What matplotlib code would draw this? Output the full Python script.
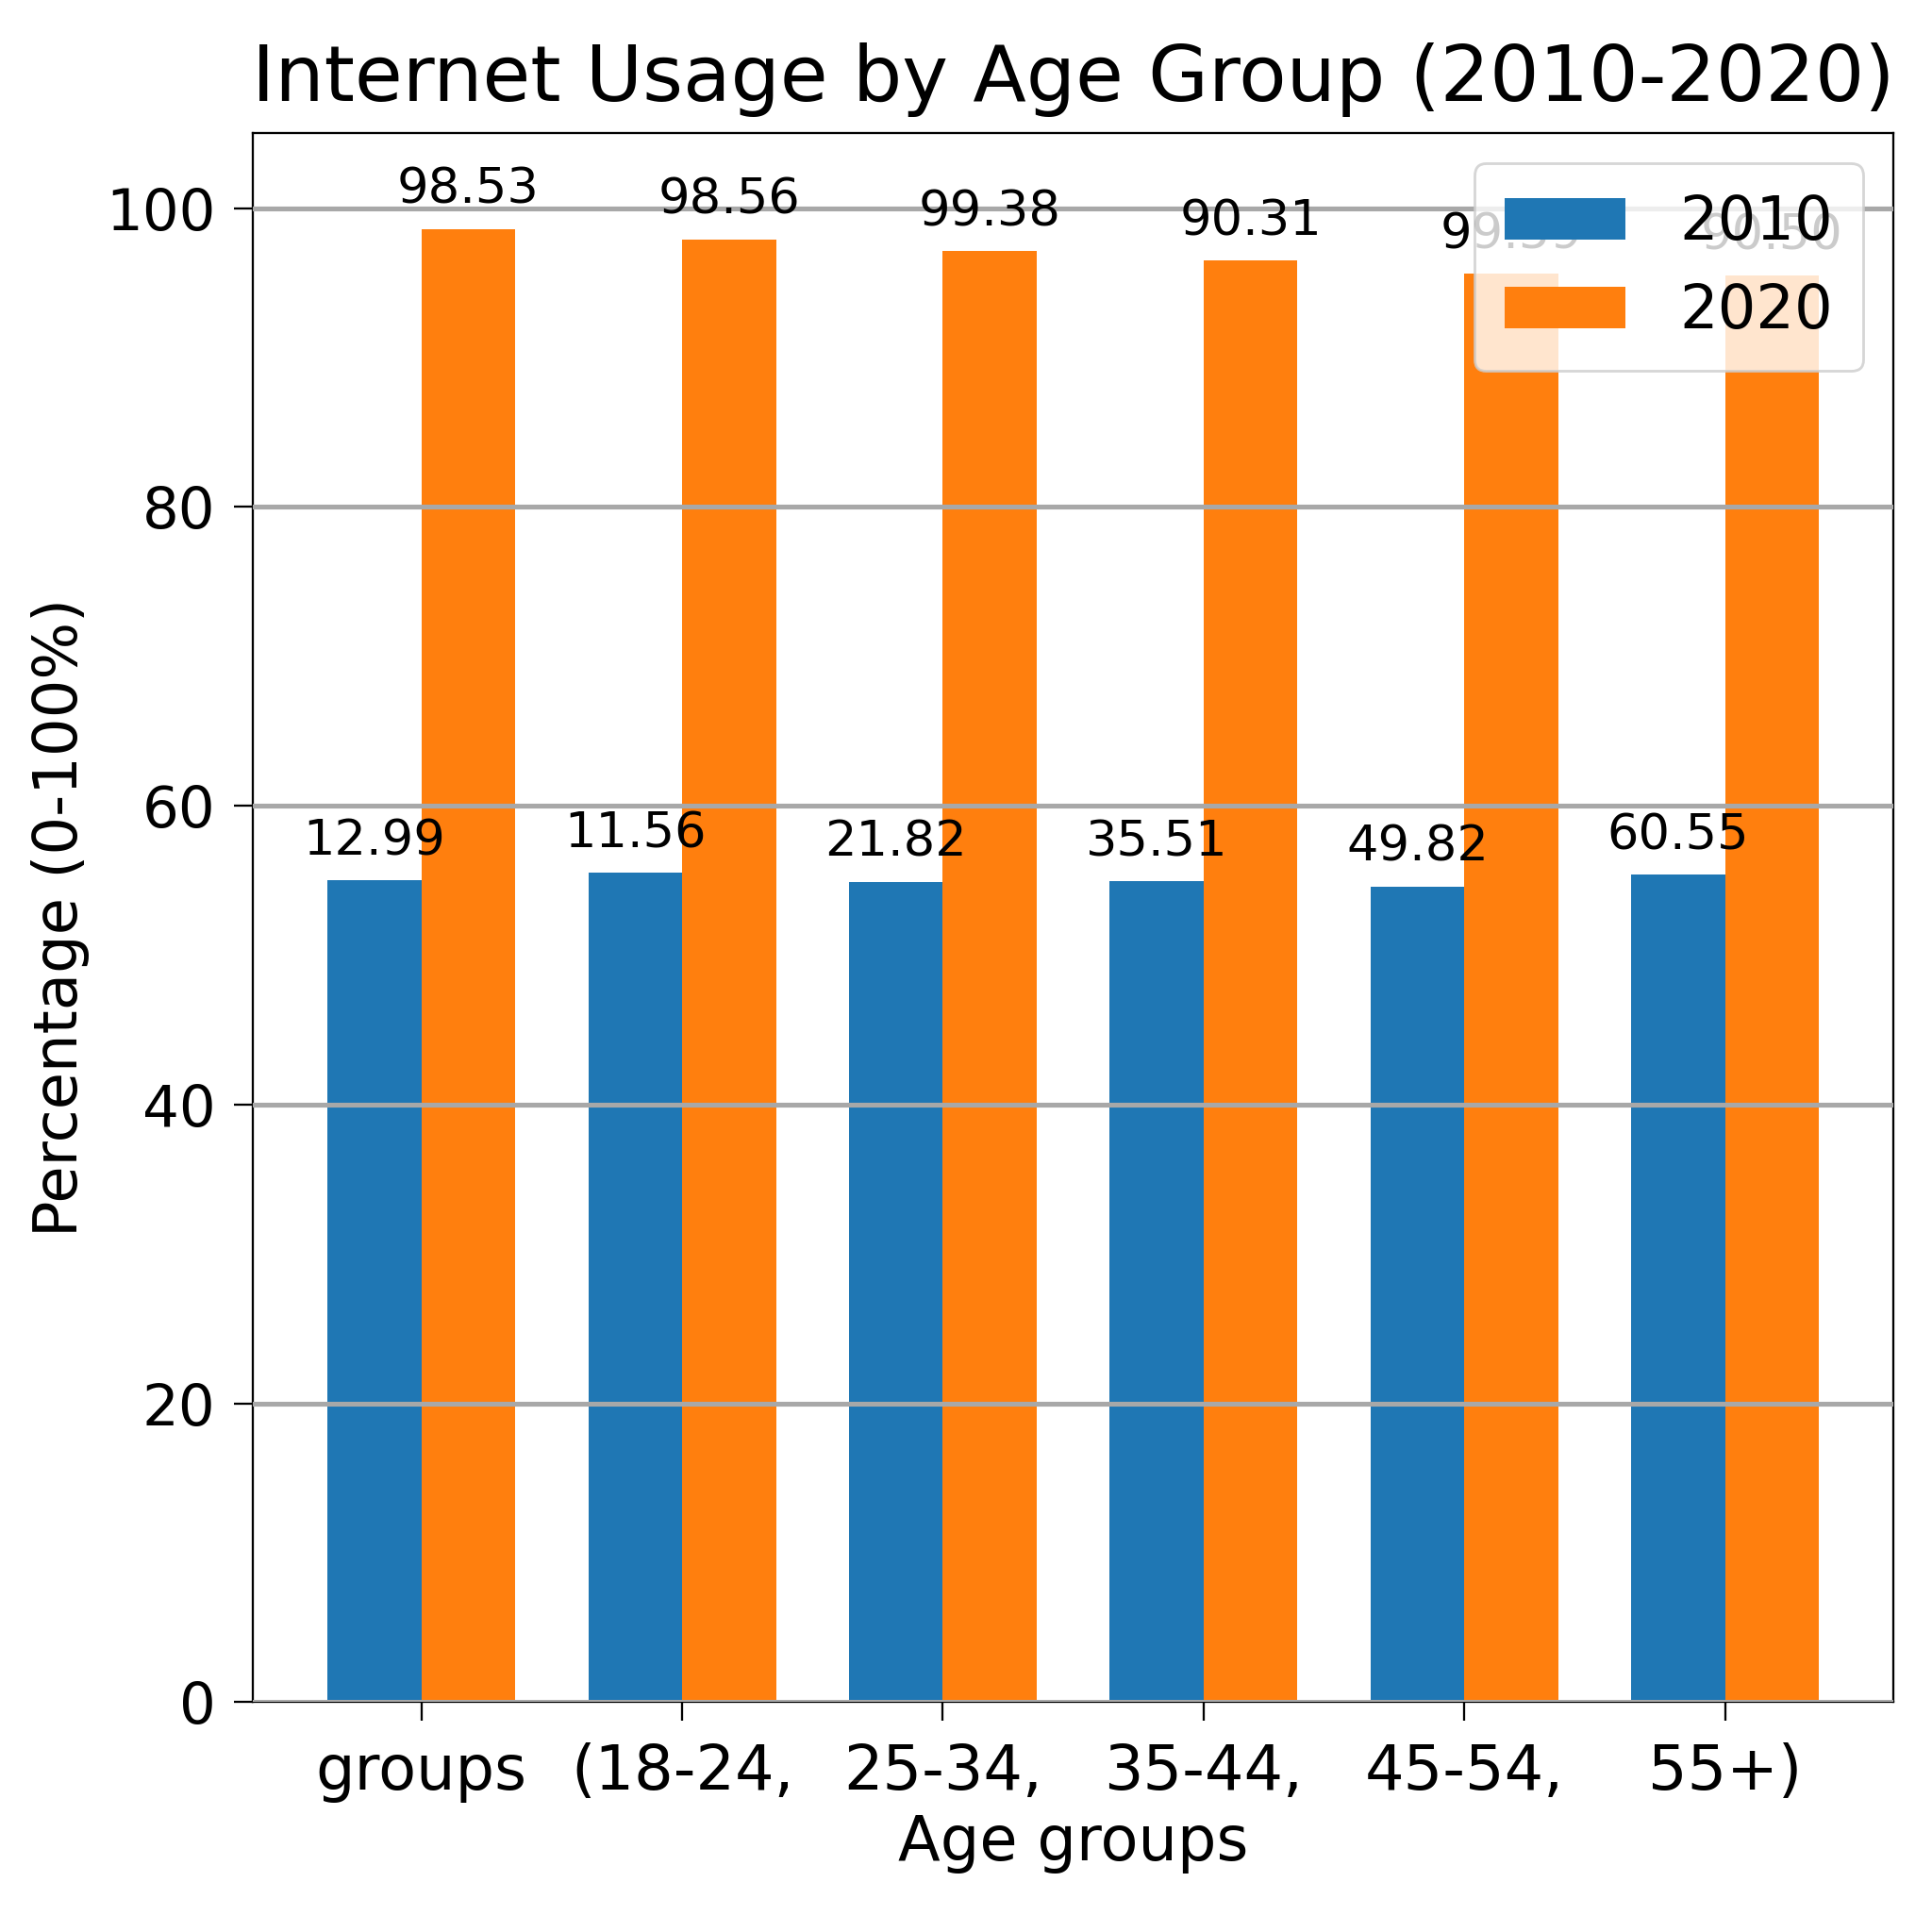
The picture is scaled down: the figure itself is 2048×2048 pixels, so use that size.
import numpy as np
import matplotlib
matplotlib.use("Agg")
import matplotlib.pyplot as plt

# data
age_groups  = ["groups", "(18-24,", "25-34,", "35-44,", "45-54,", "55+)"]
usage_2010  = [55.0, 55.5, 54.9, 54.95, 54.6, 55.4]
usage_2020  = [98.6, 97.9, 97.1, 96.5, 95.6, 95.5]
labels_2010 = ["12.99", "11.56", "21.82", "35.51", "49.82", "60.55"]
labels_2020 = ["98.53", "98.56", "99.38", "90.31", "99.59", "90.50"]

color_2010 = "#1f77b4"
color_2020 = "#ff7f0e"
width = 0.36

fig = plt.figure(figsize=(10, 10), dpi=204.8)
ax = fig.add_axes([0.131, 0.119, 0.849, 0.812])

x = np.arange(len(age_groups))
ax.bar(x - width / 2, usage_2010, width, color=color_2010, label="2010")
ax.bar(x + width / 2, usage_2020, width, color=color_2020, label="2020")

for xi, h, lab in zip(x - width / 2, usage_2010, labels_2010):
    ax.text(xi, h + 1, lab, ha="center", va="bottom", fontsize=18.5)
for xi, h, lab in zip(x + width / 2, usage_2020, labels_2020):
    ax.text(xi, h + 1, lab, ha="center", va="bottom", fontsize=18.5)

ax.set_ylim(0, 105)
ax.set_xticks(x)
ax.set_xticklabels(age_groups, fontsize=23)
ax.tick_params(axis="x", pad=8, length=7)
ax.tick_params(axis="y", labelsize=21.5, pad=7, length=7)
ax.yaxis.grid(True, color="#a8a8a8", linewidth=1.8)
ax.set_axisbelow(False)

ax.set_xlabel("Age groups", fontsize=23, labelpad=4)
ax.set_ylabel("Percentage (0-100%)", fontsize=22.5, labelpad=6)
ax.set_title("Internet Usage by Age Group (2010-2020)", fontsize=29, pad=12)
ax.legend(loc="upper right", fontsize=22.5, handlelength=2.0, handletextpad=0.9,
          borderpad=0.5)

fig.savefig("out.png", dpi=204.8)
